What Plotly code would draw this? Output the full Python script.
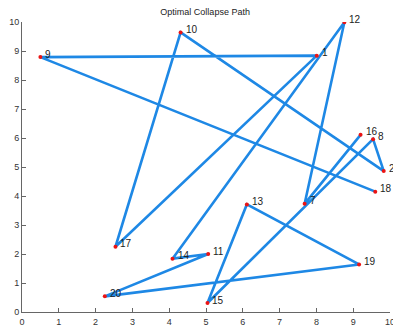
import plotly.graph_objects as go

# Visiting order of the cities along the collapse path
order = [16, 7, 12, 14, 11, 20, 19, 13, 15, 8, 2, 10, 17, 1, 9, 18]

# City coordinates keyed by city id
city_x = {1: 8.01, 2: 9.83, 7: 7.68, 8: 9.54, 9: 0.50, 10: 4.31, 11: 5.06,
          12: 8.76, 13: 6.11, 14: 4.09, 15: 5.04, 16: 9.20, 17: 2.54,
          18: 9.60, 19: 9.16, 20: 2.25}
city_y = {1: 8.84, 2: 4.86, 7: 3.73, 8: 5.96, 9: 8.79, 10: 9.64, 11: 2.00,
          12: 9.99, 13: 3.71, 14: 1.84, 15: 0.31, 16: 6.11, 17: 2.25,
          18: 4.15, 19: 1.64, 20: 0.54}

tick_vals = list(range(0, 11))

path_x = [city_x[c] for c in order]
path_y = [city_y[c] for c in order]

fig = go.Figure()
fig.add_trace(go.Scatter(
    x=path_x, y=path_y, mode="lines",
    line=dict(color="rgb(30,136,229)", width=2.6),
    hoverinfo="skip", showlegend=False,
))
fig.add_trace(go.Scatter(
    x=path_x, y=path_y, mode="markers",
    marker=dict(color="rgb(235,20,20)", size=4),
    showlegend=False,
))

for c in order:
    fig.add_annotation(
        x=city_x[c], y=city_y[c], text=str(c), showarrow=False,
        xanchor="left", yanchor="middle", xshift=3, yshift=3,
        font=dict(family="Liberation Sans, Arial, sans-serif", size=10, color="#222"),
    )

axis_common = dict(
    range=[0, 10], tickvals=tick_vals, ticktext=[str(v) for v in tick_vals],
    showgrid=False, zeroline=False, showline=True, linecolor="#666",
    linewidth=1, ticks="inside", ticklen=4, tickcolor="#666",
    tickfont=dict(family="Liberation Sans, Arial, sans-serif", size=9, color="#333"),
    ticklabeloverflow="allow", automargin=False,
    fixedrange=True,
)

fig.update_layout(
    width=393, height=326,
    margin=dict(l=22, r=3, t=22, b=14),
    paper_bgcolor="white", plot_bgcolor="white",
    title=dict(text="Optimal Collapse Path", x=0.522, xanchor="center",
               y=0.963, yanchor="middle", automargin=False,
               font=dict(family="Liberation Sans, Arial, sans-serif", size=9, color="#222")),
    xaxis=dict(**axis_common, ticklabelstandoff=1),
    yaxis=dict(**axis_common),
)

fig.write_html("out.html")
